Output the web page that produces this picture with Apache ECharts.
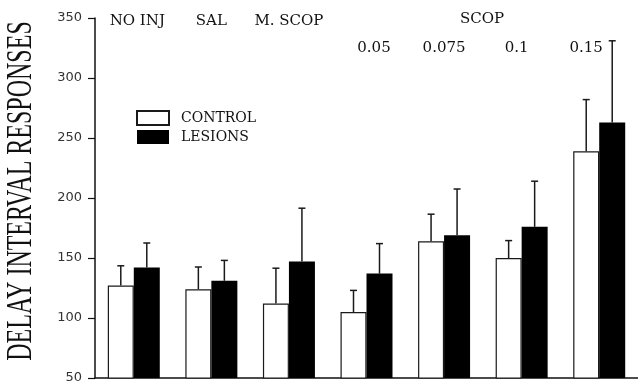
<!DOCTYPE html>
<html>
<head>
<meta charset="utf-8">
<script src="https://cdn.jsdelivr.net/npm/echarts@6/dist/echarts.min.js"></script>
<style>
  html, body { margin: 0; padding: 0; background: #fff; }
  #chart { width: 638px; height: 385px; }
</style>
</head>
<body>
<div id="chart"></div>
<script>
// groups along the x axis (shown as labels above the bars)
var groups = ['NO INJ', 'SAL', 'M. SCOP', '0.05', '0.075', '0.1', '0.15'];
var yTicks = [50, 100, 150, 200, 250, 300, 350];

// means and upper error (SEM)
var control = [127, 124, 112, 105, 164, 150, 239];
var controlErr = [16.5, 18.5, 29.5, 18, 22.5, 14.5, 43];
var lesions = [142, 131, 147, 137, 169, 176, 263];
var lesionsErr = [20.5, 17, 44.5, 25, 38.5, 38, 68];

var barW = 26;
var serif = '"DejaVu Serif", serif';

function errData(vals, errs) {
	var out = [];
	for (var i = 0; i < vals.length; i++) {
		out.push([i, vals[i], vals[i] + errs[i]]);
	}
	return out;
}

// draws the upper error whisker over one bar
function errRender(shift) {
	return function (params, api) {
		var a = api.coord([api.value(0), api.value(1)]);
		var b = api.coord([api.value(0), api.value(2)]);
		var x = a[0] + shift;
		var st = { stroke: '#1a1a1a', lineWidth: 1.5 };
		return {
			type: 'group',
			children: [
				{ type: 'line', shape: { x1: x, y1: a[1], x2: x, y2: b[1] }, style: st },
				{ type: 'line', shape: { x1: x - 3.5, y1: b[1], x2: x + 3.5, y2: b[1] }, style: st }
			]
		};
	};
}

// label style per group (first three sit on the upper row, doses below; hand-nudged like the original)
var labelStyle = ['a1', 'a', 'a', 'b1', 'b', 'b2', 'b3'];
var txt = { fontFamily: serif, fontSize: 15, color: '#111' };
function rs(pad) { return Object.assign({ padding: pad }, txt); }

var myChart = echarts.init(document.getElementById('chart'));
var option = {
	animation: false,
	grid: { left: 95, top: 18, width: 545, bottom: 7 },
	legend: {
		data: ['CONTROL', 'LESIONS'],
		orient: 'vertical',
		icon: 'rect',
		left: 136,
		top: 110,
		padding: 0,
		itemWidth: 32,
		itemHeight: 14,
		itemGap: 4,
		textStyle: { fontFamily: serif, fontSize: 14, color: '#111', padding: [0, 0, 0, 7] }
	},
	xAxis: [{
		type: 'category',
		data: groups,
		axisLine: { lineStyle: { color: '#111', width: 1.5 } },
		axisTick: { show: false },
		axisLabel: { show: false }
	}, {
		type: 'category',
		data: groups,
		position: 'top',
		axisLine: { show: false },
		axisTick: { show: false },
		axisLabel: {
			interval: 0,
			margin: -38,
			formatter: function (v, i) {
				return '{' + labelStyle[i] + '|' + v + '}';
			},
			rich: {
				a: rs([0, 0, 27, 0]),
				a1: rs([0, 0, 27, 7]),
				b: rs([0, 0, 0, 0]),
				b1: rs([0, 0, 0, 15]),
				b2: rs([0, 10, 0, 0]),
				b3: rs([0, 26, 0, 0])
			}
		}
	}],
	yAxis: {
		type: 'value',
		min: yTicks[0],
		max: yTicks[yTicks.length - 1],
		interval: 50,
		splitLine: { show: false },
		axisLine: { show: true, lineStyle: { color: '#111', width: 1.5 } },
		axisTick: { show: true, length: 7, lineStyle: { color: '#111', width: 1.2 } },
		axisLabel: { margin: 13, fontFamily: '"DejaVu Sans", sans-serif', fontSize: 13, color: '#333' }
	},
	graphic: [{
		type: 'text',
		x: 21.5,
		y: 191,
		rotation: Math.PI / 2,
		scaleY: 1.45,
		style: {
			text: 'DELAY INTERVAL RESPONSES',
			font: '24px "Liberation Serif", serif',
			fill: '#111',
			align: 'center',
			verticalAlign: 'middle'
		}
	}, {
		type: 'text',
		x: 482,
		y: 19,
		style: {
			text: 'SCOP',
			font: '15px ' + serif,
			fill: '#111',
			align: 'center',
			verticalAlign: 'middle'
		}
	}],
	series: [{
		name: 'CONTROL',
		type: 'bar',
		barWidth: barW,
		barGap: '0%',
		itemStyle: { color: '#fff', borderColor: '#1a1a1a', borderWidth: 1.2 },
		data: control
	}, {
		name: 'LESIONS',
		type: 'bar',
		barWidth: barW,
		barGap: '0%',
		itemStyle: { color: '#000' },
		data: lesions
	}, {
		type: 'custom',
		renderItem: errRender(-barW / 2),
		encode: { x: 0, y: [1, 2] },
		data: errData(control, controlErr),
		z: 3
	}, {
		type: 'custom',
		renderItem: errRender(barW / 2),
		encode: { x: 0, y: [1, 2] },
		data: errData(lesions, lesionsErr),
		z: 3
	}]
};
myChart.setOption(option);
</script>
</body>
</html>
